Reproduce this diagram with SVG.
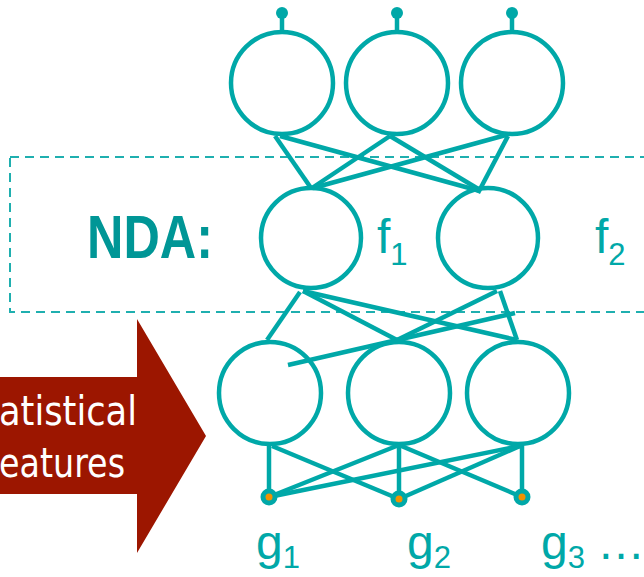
<svg xmlns="http://www.w3.org/2000/svg" width="644" height="577" viewBox="0 0 644 577">
<style>
.n{fill:none;stroke:#00A8A8;stroke-width:4.5}
.c line{stroke:#00A8A8;stroke-width:4.5}
.lbl{font-family:"Liberation Sans",Arial,sans-serif;font-size:48px;fill:#00A8A8}
.sub{font-size:31px}
.dot{fill:#00A8A8}
.dc{fill:#F39200}
</style>
<rect x="10" y="157" width="660" height="155" fill="none" stroke="#1FAFAF" stroke-width="2" stroke-dasharray="9 6"/>
<g id="arrow">
<path d="M-5 377 H137 V319 L206 436 L137 553 V494 H-5 Z" fill="#9C1600"/>
<text x="-1" y="425" font-family="DejaVu Sans,Verdana,sans-serif" font-size="41" fill="#FFFFFF" textLength="138" lengthAdjust="spacingAndGlyphs">atistical</text>
<text x="-1" y="477" font-family="DejaVu Sans,Verdana,sans-serif" font-size="41" fill="#FFFFFF" textLength="126" lengthAdjust="spacingAndGlyphs">eatures</text>
</g>
<text id="nda" x="87" y="258" font-family="Liberation Sans,Arial,sans-serif" font-weight="bold" font-size="62" fill="#009696" textLength="126" lengthAdjust="spacingAndGlyphs">NDA:</text>
<g class="c" id="connectors">
<line x1="282" y1="13" x2="282" y2="32"/>
<line x1="397" y1="13" x2="397" y2="32"/>
<line x1="512" y1="13" x2="512" y2="32"/>
<line x1="275" y1="136" x2="311" y2="188"/>
<line x1="280" y1="136" x2="480" y2="191"/>
<line x1="390" y1="136" x2="312" y2="188"/>
<line x1="390" y1="136" x2="480" y2="190"/>
<line x1="506" y1="135" x2="313" y2="188"/>
<line x1="508" y1="136" x2="478" y2="193"/>
<line x1="300" y1="292" x2="267" y2="340"/>
<line x1="303" y1="291" x2="397" y2="340"/>
<line x1="303" y1="291" x2="517" y2="340"/>
<line x1="497" y1="291" x2="397" y2="340"/>
<line x1="500" y1="291" x2="517" y2="340"/>
<line x1="288" y1="365" x2="515" y2="313"/>
<line x1="269" y1="446" x2="269" y2="497"/>
<line x1="399" y1="445" x2="399" y2="499"/>
<line x1="522" y1="446" x2="522" y2="497"/>
<line x1="272" y1="446" x2="399" y2="499"/>
<line x1="399" y1="445" x2="269" y2="497"/>
<line x1="399" y1="445" x2="522" y2="497"/>
<line x1="520" y1="446" x2="399" y2="499"/>
<line x1="520" y1="446" x2="269" y2="497"/>
</g>
<g id="out1"><circle class="dot" cx="282" cy="13" r="6"/><circle class="n" cx="282" cy="83" r="51"/></g>
<g id="out2"><circle class="dot" cx="397" cy="13" r="6"/><circle class="n" cx="397" cy="83" r="51"/></g>
<g id="out3"><circle class="dot" cx="512" cy="13" r="6"/><circle class="n" cx="512" cy="83" r="51"/></g>
<g id="f1"><circle class="n" cx="311" cy="238" r="50"/><text class="lbl" x="377" y="253">f<tspan class="sub" dy="12">1</tspan></text></g>
<g id="f2"><circle class="n" cx="488" cy="238" r="50"/><text class="lbl" x="595" y="253">f<tspan class="sub" dy="12">2</tspan></text></g>
<g id="h1"><circle class="n" cx="270" cy="393" r="51"/></g>
<g id="h2"><circle class="n" cx="399" cy="393" r="51"/></g>
<g id="h3"><circle class="n" cx="518" cy="393" r="51"/></g>
<g id="g1"><circle class="dot" cx="269" cy="497" r="8.5"/><circle class="dc" cx="269" cy="497" r="3.5"/><text class="lbl" x="256" y="559">g<tspan class="sub" dy="9">1</tspan></text></g>
<g id="g2"><circle class="dot" cx="399" cy="499" r="8.5"/><circle class="dc" cx="399" cy="499" r="3.5"/><text class="lbl" x="407" y="559">g<tspan class="sub" dy="9">2</tspan></text></g>
<g id="g3"><circle class="dot" cx="522" cy="497" r="8.5"/><circle class="dc" cx="522" cy="497" r="3.5"/><text class="lbl" x="541" y="559">g<tspan class="sub" dy="9">3</tspan></text></g>
<text class="lbl" x="597" y="559" font-size="42">…</text>
</svg>
